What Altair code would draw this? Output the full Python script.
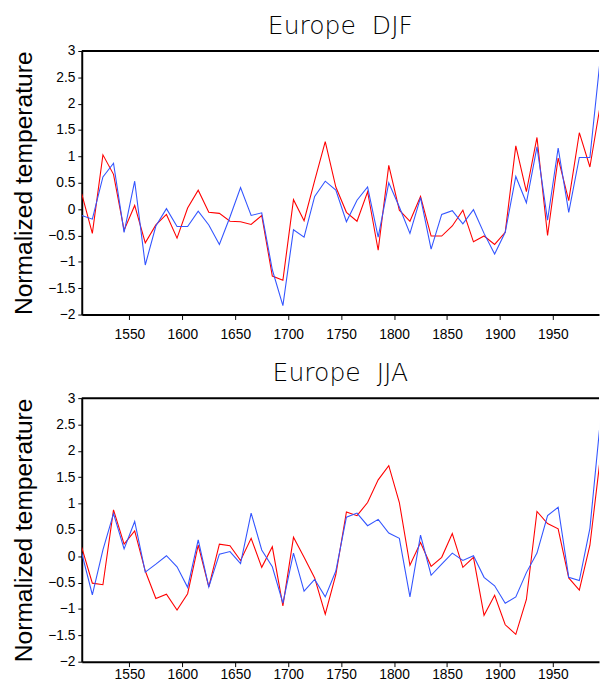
import altair as alt
import pandas as pd

years = list(range(1505, 2000, 10))

djf_red = [0.29, -0.46, 1.03, 0.66, -0.40, 0.07, -0.64, -0.30, -0.10, -0.55,
           0.02, 0.36, -0.06, -0.08, -0.23, -0.24, -0.29, -0.12, -1.27, -1.35,
           0.18, -0.22, 0.54, 1.28, 0.42, -0.06, -0.23, 0.33, -0.78, 0.83,
           -0.02, -0.23, 0.24, -0.51, -0.51, -0.32, -0.02, -0.62, -0.51, -0.67,
           -0.44, 1.20, 0.33, 1.36, -0.50, 0.97, 0.16, 1.45, 0.80, 2.0]
djf_blue = [-0.12, -0.19, 0.61, 0.87, -0.44, 0.53, -1.06, -0.32, 0.01, -0.33,
            -0.33, -0.04, -0.30, -0.67, -0.15, 0.41, -0.12, -0.07, -1.15, -1.83,
            -0.39, -0.53, 0.24, 0.53, 0.36, -0.24, 0.17, 0.42, -0.53, 0.50,
            0.04, -0.46, 0.22, -0.76, -0.10, -0.03, -0.28, -0.01, -0.46, -0.85,
            -0.44, 0.62, 0.12, 1.18, -0.21, 1.16, -0.06, 0.98, 0.98, 2.9]
jja_red = [0.17, -0.51, -0.54, 0.88, 0.23, 0.48, -0.28, -0.80, -0.72, -1.02,
           -0.71, 0.21, -0.58, 0.23, 0.20, -0.08, 0.34, -0.21, 0.18, -0.94,
           0.36, -0.02, -0.41, -1.10, -0.35, 0.84, 0.77, 1.02, 1.45, 1.72,
           1.02, -0.17, 0.26, -0.19, -0.02, 0.43, -0.21, -0.02, -1.12, -0.74,
           -1.30, -1.48, -0.82, 0.85, 0.62, 0.52, -0.41, -0.64, 0.21, 1.9]
jja_blue = [0.06, -0.73, 0.12, 0.81, 0.14, 0.66, -0.30, -0.15, 0.01, -0.20,
            -0.59, 0.31, -0.58, 0.04, 0.09, -0.14, 0.82, 0.12, -0.20, -0.89,
            0.06, -0.66, -0.44, -0.77, -0.28, 0.74, 0.82, 0.58, 0.70, 0.44,
            0.34, -0.77, 0.40, -0.36, -0.15, 0.06, -0.08, 0.01, -0.40, -0.56,
            -0.89, -0.77, -0.31, 0.06, 0.77, 0.93, -0.40, -0.46, 0.53, 2.6]

x_ticks = [1550, 1600, 1650, 1700, 1750, 1800, 1850, 1900, 1950]
y_ticks = [-2, -1.5, -1, -0.5, 0, 0.5, 1, 1.5, 2, 2.5, 3]
series_names = ["red", "blue"]
series_colors = ["#ff0000", "#3355ff"]
X_MIN, X_MAX = 1505, 1993.6
Y_MIN, Y_MAX = -2, 3

y_scale = alt.Scale(domain=[Y_MIN, Y_MAX], nice=False, zero=False)
y_axis = alt.Axis(values=y_ticks, format="~g", tickCount=11,
                  title="Normalized temperature", grid=False,
                  tickSize=4, labelPadding=3, domainWidth=2,
                  domainColor="black", tickColor="black",
                  labelFont="Liberation Sans", labelFontSize=14,
                  labelColor="black", labelOverlap=False,
                  titleFont="Liberation Sans", titleFontSize=25,
                  titleFontWeight="normal", titleColor="black",
                  titlePadding=11)


def panel(title, red, blue, x_label_pad):
    df = pd.DataFrame({
        "year": years + years,
        "value": red + blue,
        "series": ["red"] * len(years) + ["blue"] * len(years),
    })
    lines = alt.Chart(df).mark_line(strokeWidth=1.1, clip=True).encode(
        x=alt.X("year:Q",
                scale=alt.Scale(domain=[X_MIN, X_MAX], nice=False, zero=False),
                axis=alt.Axis(values=x_ticks, format="d", title=None, grid=False,
                              tickSize=5, labelPadding=x_label_pad, domainWidth=2,
                              domainColor="black", tickColor="black",
                              labelFont="Liberation Sans", labelFontSize=14,
                              labelColor="black", labelOverlap=False)),
        y=alt.Y("value:Q", scale=y_scale, axis=y_axis),
        color=alt.Color("series:N",
                        scale=alt.Scale(domain=series_names, range=series_colors),
                        legend=None),
        order=alt.Order("series:N", sort="descending"),
    )
    top_border = alt.Chart(pd.DataFrame({"value": [Y_MAX]})).mark_rule(
        color="black", strokeWidth=2).encode(
        y=alt.Y("value:Q", scale=y_scale, axis=y_axis))
    return alt.layer(lines, top_border).properties(
        width=526, height=268,
        title=alt.TitleParams(title, font="DejaVu Sans", fontSize=25.5,
                              fontWeight=200, color="black", anchor="middle",
                              offset=5),
    )


chart = alt.vconcat(
    panel("Europe\u00a0\u00a0DJF", djf_red, djf_blue, 8),
    panel("Europe\u00a0\u00a0JJA", jja_red, jja_blue, 1),
    spacing=20,
).properties(
    padding={"left": 4, "top": 0, "right": 0, "bottom": 0},
).configure_view(stroke=None)

chart.save("out.html", embed_options={"renderer": "svg", "actions": False})
